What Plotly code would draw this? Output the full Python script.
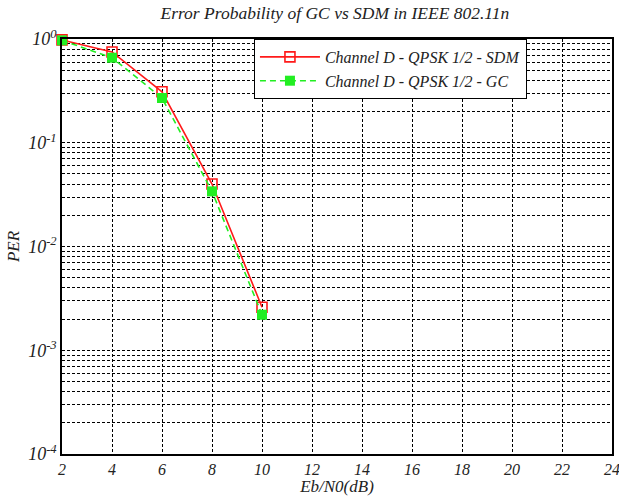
import plotly.graph_objects as go

ebn0 = [2, 4, 6, 8, 10]
per_sdm = [0.98, 0.75, 0.31, 0.040, 0.0026]
per_gc = [0.97, 0.66, 0.27, 0.034, 0.0022]
x_ticks = [2, 4, 6, 8, 10, 12, 14, 16, 18, 20, 22, 24]
y_tickvals = [1e-4, 1e-3, 1e-2, 1e-1, 1]
y_ticktext = ["<i>10<sup>-4</sup></i>", "<i>10<sup>-3</sup></i>", "<i>10<sup>-2</sup></i>",
              "<i>10<sup>-1</sup></i>", "<i>10<sup>0</sup></i>"]

serif = "'Liberation Serif', 'Times New Roman', Times, serif"

fig = go.Figure()
fig.add_trace(go.Scatter(
    x=ebn0, y=per_sdm, mode="lines+markers",
    name="Channel D - QPSK 1/2 - SDM",
    line=dict(color="#ff1a1a", width=1.6),
    marker=dict(symbol="square-open", size=10, color="#ff1a1a", line=dict(width=1.6)),
    cliponaxis=False,
))
fig.add_trace(go.Scatter(
    x=ebn0, y=per_gc, mode="lines+markers",
    name="Channel D - QPSK 1/2 - GC",
    line=dict(color="#22ee22", width=1.6, dash="6px,4px"),
    marker=dict(symbol="square", size=10, color="#22ee22"),
    cliponaxis=False,
))

grid = dict(gridcolor="black", gridwidth=1, griddash="3px,2px")

fig.update_layout(
    width=619, height=496,
    margin=dict(l=62, r=7, t=39, b=42),
    paper_bgcolor="white", plot_bgcolor="white",
    title=dict(text="<i>Error Probability of GC vs SDM in IEEE 802.11n</i>",
               x=0.541, xanchor="center", y=0.975, yanchor="middle",
               font=dict(family=serif, size=17.5, color="#222")),
    font=dict(family=serif, color="#222"),
    showlegend=True,
    legend=dict(x=0.349, y=1.0, xanchor="left", yanchor="top",
                bgcolor="white", bordercolor="black", borderwidth=1,
                font=dict(family=serif, size=16, style="italic", color="#222"),
                tracegroupgap=0, itemwidth=60),
    xaxis=dict(range=[2, 24], tickvals=x_ticks,
               ticktext=[f"<i>{v}</i>" for v in x_ticks],
               showline=True, linecolor="black", linewidth=1.5, mirror=True,
               showgrid=True, **grid, zeroline=False, ticks="", automargin=False,
               ticklabelstandoff=0, ticklabeloverflow="allow",
               tickfont=dict(family=serif, size=16, color="#222"),
               title=dict(text="<i>Eb/N0(dB)</i>", standoff=0,
                          font=dict(family=serif, size=17, color="#222"))),
    yaxis=dict(type="log", range=[-4, 0], tickvals=y_tickvals, ticktext=y_ticktext,
               showline=True, linecolor="black", linewidth=1.5, mirror=True,
               showgrid=True, **grid, zeroline=False, ticks="", automargin=False,
               ticklabeloverflow="allow",
               minor=dict(dtick="D1", showgrid=True, **grid, ticks=""),
               tickfont=dict(family=serif, size=18, color="#222"),
               title=dict(text="<i>PER</i>", standoff=4,
                          font=dict(family=serif, size=17, color="#222"))),
)

fig.write_html("out.html", config={"displayModeBar": False},
               post_script="document.body.style.margin='0';")
